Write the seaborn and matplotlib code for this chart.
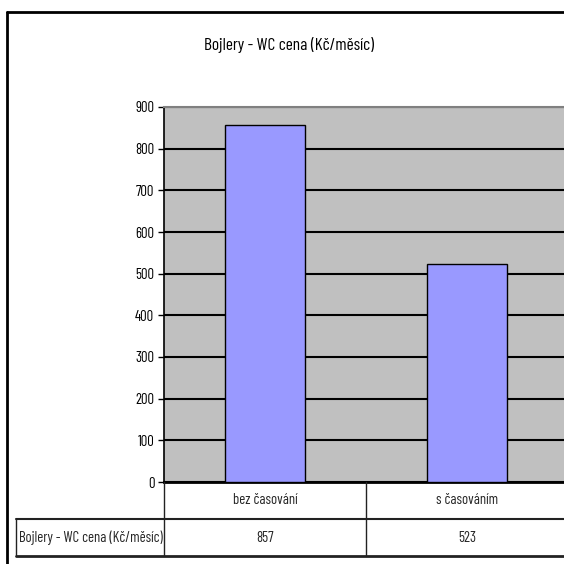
import matplotlib
matplotlib.use("Agg")
import matplotlib.pyplot as plt
from matplotlib.lines import Line2D
import seaborn as sns

# Monthly boiler cost for the WC, with and without timer control
title = "Bojlery - WC cena (Kč/měsíc)"
categories = ["bez časování", "s časováním"]
values = [857, 523]
series_label = "Bojlery - WC cena (Kč/měsíc)"
y_ticks = [0, 100, 200, 300, 400, 500, 600, 700, 800, 900]

sns.set_theme(style="white")
plt.rcParams["font.family"] = ["Barlow Condensed", "Roboto Condensed", "DejaVu Sans"]

W = H = 564
fig = plt.figure(figsize=(W / 100, H / 100), dpi=100)


def fx(px):
    return px / W


def fy(py):
    return 1 - py / H


FS = 10.6         # axis and table text
FS_TITLE = 12.5   # chart title

# plot area (pixel geometry of the chart frame)
left, right, top, bottom = 164, 568, 107, 482
ax = fig.add_axes([fx(left), fy(bottom), fx(right - left), (bottom - top) / H])
ax.set_facecolor("#C0C0C0")

sns.barplot(x=categories, y=values, color="#9999FF", saturation=1,
            width=0.4, edgecolor="black", linewidth=1, ax=ax, zorder=3)

ax.set_xlim(-0.5, 1.5)
ax.set_ylim(0, 900)
ax.set_yticks(y_ticks)
ax.set_yticklabels([str(t) for t in y_ticks], fontsize=FS)
ax.yaxis.grid(True, color="black", linewidth=1.5, zorder=1)
ax.set_axisbelow(True)
ax.tick_params(axis="y", direction="out", length=4, width=1, color="black",
               pad=3, left=True, labelcolor="black")
ax.tick_params(axis="x", bottom=False, labelbottom=False)
ax.set_xlabel("")
ax.set_ylabel("")
for side, sp in ax.spines.items():
    sp.set_visible(True)
ax.spines["left"].set_color("black")
ax.spines["left"].set_linewidth(1.2)
ax.spines["bottom"].set_color("black")
ax.spines["bottom"].set_linewidth(2)
ax.spines["top"].set_color("#808080")
ax.spines["top"].set_linewidth(1.5)
ax.spines["right"].set_color("#808080")

# chart title
fig.text(fx(289), fy(45), title, ha="center", va="center", fontsize=FS_TITLE, color="black")

# outer chart border
fig.add_artist(Line2D([fx(7), fx(7)], [fy(12), fy(600)], color="black", lw=2))
fig.add_artist(Line2D([fx(7), fx(600)], [fy(12), fy(12)], color="black", lw=2))

# data table under the category axis
row1, row2, row3 = 482, 519, 556
col_mid = left + (right - left) / 2
tbl_left = 16
lc = "#222222"
fig.add_artist(Line2D([fx(left), fx(left)], [fy(row1), fy(row3)], color=lc, lw=1))
fig.add_artist(Line2D([fx(col_mid), fx(col_mid)], [fy(row1), fy(row3)], color=lc, lw=1))
fig.add_artist(Line2D([fx(tbl_left), fx(W + 10)], [fy(row2), fy(row2)], color=lc, lw=1.5))
fig.add_artist(Line2D([fx(tbl_left), fx(W + 10)], [fy(row3), fy(row3)], color=lc, lw=2))
fig.add_artist(Line2D([fx(tbl_left), fx(tbl_left)], [fy(row2), fy(row3)], color=lc, lw=1))

centers = [left + (right - left) * 0.25, left + (right - left) * 0.75]
for cx, cat, val in zip(centers, categories, values):
    fig.text(fx(cx), fy((row1 + row2) / 2), cat, ha="center", va="center", fontsize=FS)
    fig.text(fx(cx), fy((row2 + row3) / 2), str(val), ha="center", va="center", fontsize=FS)
fig.text(fx(19), fy((row2 + row3) / 2), series_label, ha="left", va="center", fontsize=FS)

fig.savefig("out.png", dpi=100, facecolor="white")
